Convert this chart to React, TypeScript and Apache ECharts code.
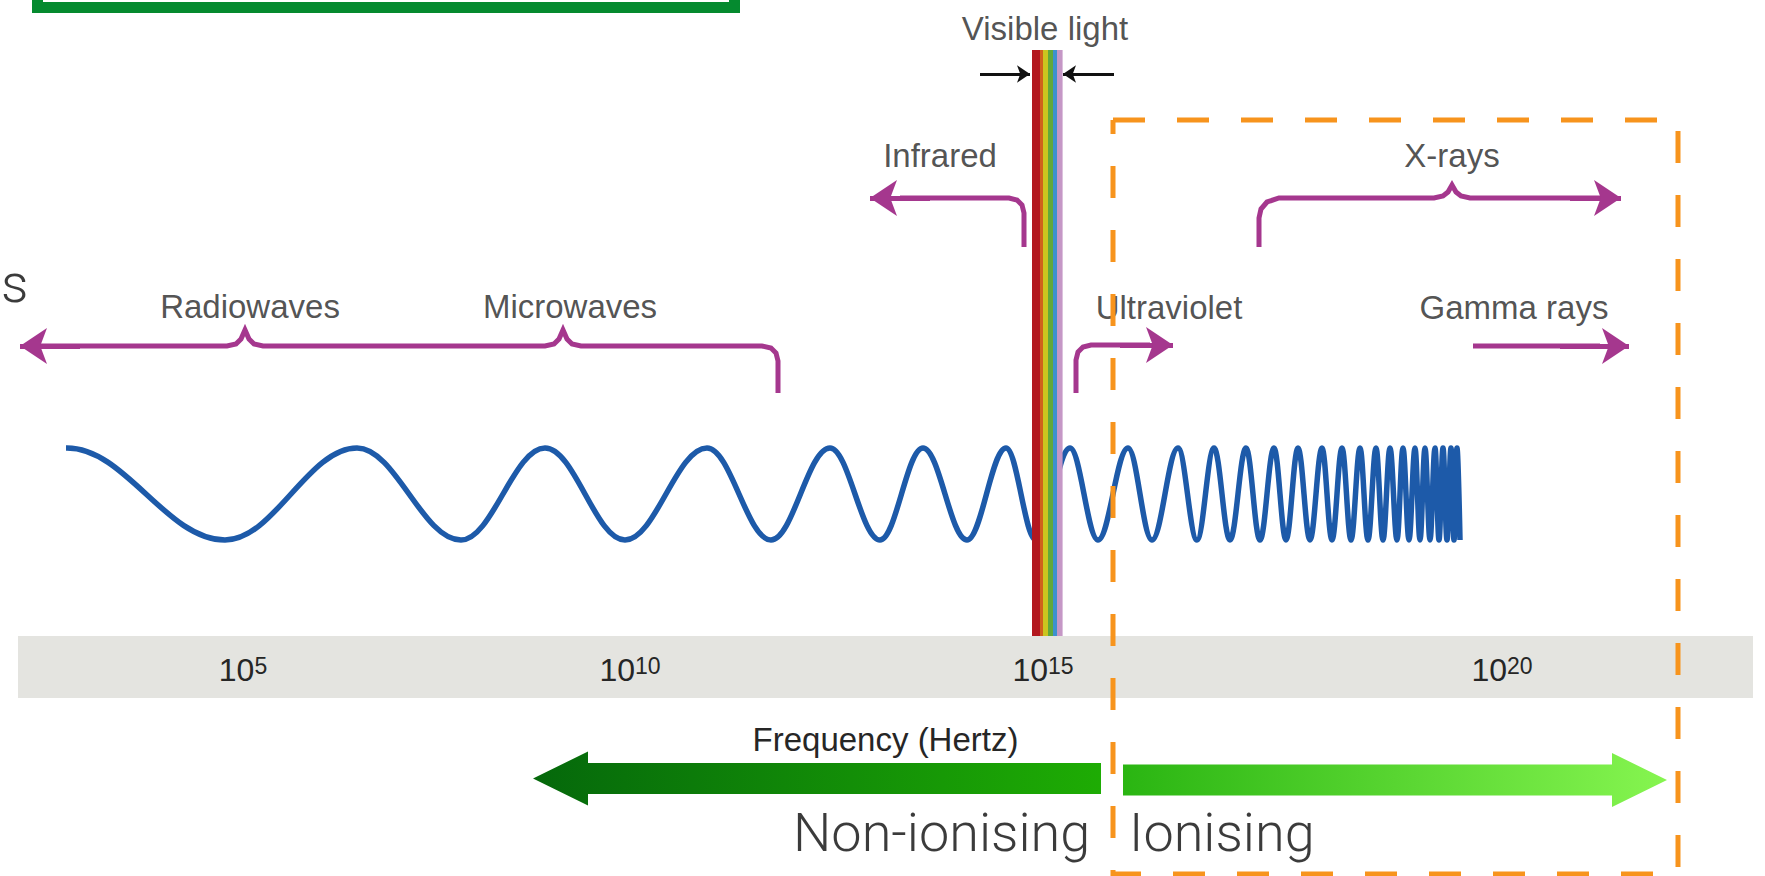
import React, { useEffect, useRef } from "react";
import * as echarts from "echarts";

// ---------------- DATA (diagram coordinates: x along the spectrum, y downwards) ----------------

// Frequency scale shown on the grey band
const freqExponents = [5, 10, 15, 20];
const freqTickPos = [243, 630, 1043, 1502];
const freqAxisName = "Frequency (Hertz)";

// Wave: successive crests (+1) and troughs (-1) (starts flat on a crest)
const waveX = [
  66, 67, 225, 357, 461, 545, 625, 707, 771, 830, 880, 923, 967, 1006, 1036, 1070, 1098,
  1128, 1152, 1178, 1197, 1214, 1230, 1246, 1260, 1274, 1286, 1298, 1310, 1322, 1332,
  1342, 1351, 1360, 1368, 1376, 1383, 1390, 1397, 1403, 1409, 1415, 1420, 1425, 1430,
  1435, 1439, 1443, 1447, 1451, 1454, 1457, 1460,
];
const waveLevel = [
  1, 1, -1, 1, -1, 1, -1, 1, -1, 1, -1, 1, -1, 1, -1, 1, -1,
  1, -1, 1, -1, 1, -1, 1, -1, 1, -1, 1, -1, 1, -1,
  1, -1, 1, -1, 1, -1, 1, -1, 1, -1, 1, -1, 1, -1,
  1, -1, 1, -1, 1, -1, 1, -1,
];

// Band names
const bandNames = ["Radiowaves", "Microwaves", "Infrared", "Visible light", "Ultraviolet", "X-rays", "Gamma rays"];
const bandNameX = [250, 570, 940, 1045, 1169, 1452, 1514];
const bandNameY = [306, 306, 155, 28, 307, 155, 307];

// Magenta range brackets
const radioMicroBracket = [
  [40, 346], [227, 346], [236, 344], [241, 339], [245, 330], [249, 339], [254, 344], [263, 346],
  [545, 346], [554, 344], [559, 339], [563, 330], [567, 339], [572, 344], [581, 346],
  [762, 346], [771, 348], [776, 353], [778, 361], [778, 393],
];
const infraredBracket = [[1024, 247], [1024, 213], [1022, 205], [1017, 200], [1009, 198], [900, 198]];
const ultravioletBracket = [[1076, 393], [1076, 360], [1078, 352], [1083, 347], [1091, 345], [1150, 345]];
const xrayBracket = [
  [1259, 247], [1259, 218], [1261, 209], [1267, 202], [1279, 198], [1434, 198],
  [1443, 196], [1448, 192], [1452, 185], [1456, 192], [1461, 196], [1470, 198], [1600, 198],
];
const gammaBracket = [[1473, 346], [1600, 346]];
const bracketArrows = [
  [[80, 346], [20, 346]],
  [[930, 198], [870, 198]],
  [[1120, 345], [1173, 345]],
  [[1570, 198], [1621, 198]],
  [[1560, 346], [1629, 346]],
];
const visibleArrows = [
  [[980, 74], [1030, 74]],
  [[1114, 74], [1063, 74]],
];

// Visible-light strip
const visibleEdges = [1032, 1040, 1043, 1048, 1053, 1057, 1062];
const visibleTop = 50;
const visibleBottom = 636;
const visibleColors = ["#b3181f", "#d0601c", "#cbc51f", "#62a83b", "#3d91cf", "#c597c6"];

// Ionising / non-ionising arrows: tail, tip, centre line
const ionArrowTail = [1101, 1123];
const ionArrowTip = [533, 1667];
const ionArrowY = [778.5, 780];

// Captions
const captionText = ["Non-ionising", "Ionising", "s"];
const captionX = [793, 1129, 1];
const captionY = [832, 832, 283];

// Boxes
const ionisingBox = [[1113, 120], [1678, 120], [1678, 874], [1113, 874], [1113, 120]];
const topBox = [[37.5, -30], [37.5, 7.5], [734.5, 7.5], [734.5, -30]];

// ---------------- STYLES ----------------
const MAGENTA = "#a5378e";
const TEXT = "#262626";
const SANS = "'Liberation Sans', Arial, Helvetica, sans-serif";
const ionArrowStops = [
  [
    { offset: 0, color: "#05680b" },
    { offset: 1, color: "#1eac04" },
  ],
  [
    { offset: 0, color: "#2ab512" },
    { offset: 1, color: "#86f550" },
  ],
];
const captionAlign = ["left", "left", "left"];

export default function App() {
  const ref = useRef<HTMLDivElement>(null);

  useEffect(() => {
    if (!ref.current) return;
    const chart = echarts.init(ref.current, undefined, { renderer: "svg" });

    const option: any = {
      animation: false,
      backgroundColor: "#ffffff",
      textStyle: { fontFamily: SANS },
      grid: [
        { left: 0, right: 0, top: 0, bottom: 0 },
        { left: 18, right: 12, top: 636, height: 62, show: true, backgroundColor: "#e4e4e0", borderWidth: 0 },
        { left: 0, right: 0, top: 448, height: 92 },
      ],
      xAxis: [
        { type: "value", gridIndex: 0, min: 0, max: 1765, show: false },
        {
          type: "value",
          gridIndex: 1,
          min: 18,
          max: 1753,
          axisLine: { show: false },
          axisTick: { show: false },
          splitLine: { show: false },
          axisLabel: {
            customValues: freqTickPos,
            margin: -27,
            verticalAlign: "middle",
            formatter: (v: number) => {
              const i = freqTickPos.indexOf(v);
              return i < 0 ? "" : `{n|10}{e|${freqExponents[i]}}`;
            },
            rich: {
              n: { fontSize: 32, color: TEXT, fontFamily: SANS, verticalAlign: "top", lineHeight: 34 },
              e: { fontSize: 23, color: TEXT, fontFamily: SANS, verticalAlign: "top", lineHeight: 26 },
            },
          },
          name: freqAxisName,
          nameLocation: "middle",
          nameGap: 41,
          nameTextStyle: { fontSize: 33, color: TEXT, fontFamily: SANS, verticalAlign: "middle" },
        },
        { type: "value", gridIndex: 2, min: 0, max: 1765, show: false },
      ],
      yAxis: [
        { type: "value", gridIndex: 0, min: 0, max: 876, inverse: true, show: false },
        { type: "value", gridIndex: 1, min: 0, max: 1, show: false },
        { type: "value", gridIndex: 2, min: -1, max: 1, show: false },
      ],
      series: [
        {
          type: "line",
          xAxisIndex: 2,
          yAxisIndex: 2,
          data: waveX.map((x, i) => [x, waveLevel[i]]),
          smooth: 0.37,
          smoothMonotone: "x",
          symbol: "none",
          clip: false,
          silent: true,
          lineStyle: { color: "#1d5aa9", width: 5.5 },
          z: 2,
        },
        {
          type: "custom",
          xAxisIndex: 0,
          yAxisIndex: 0,
          silent: true,
          z: 3,
          data: visibleEdges.slice(0, -1).map((x0, i) => [x0, visibleEdges[i + 1], visibleTop, visibleBottom]),
          renderItem: (params: any, api: any) => {
            const p0 = api.coord([api.value(0), api.value(2)]);
            const p1 = api.coord([api.value(1), api.value(3)]);
            return {
              type: "rect",
              shape: { x: p0[0], y: p0[1], width: p1[0] - p0[0] + 0.6, height: p1[1] - p0[1] },
              style: { fill: visibleColors[params.dataIndex] },
            };
          },
        },
        {
          type: "lines",
          coordinateSystem: "cartesian2d",
          xAxisIndex: 0,
          yAxisIndex: 0,
          polyline: true,
          silent: true,
          z: 3,
          lineStyle: { color: MAGENTA, width: 5, opacity: 1, curveness: 0 },
          data: [radioMicroBracket, infraredBracket, ultravioletBracket, xrayBracket, gammaBracket].map((c) => ({ coords: c })),
        },
        {
          type: "lines",
          coordinateSystem: "cartesian2d",
          xAxisIndex: 0,
          yAxisIndex: 0,
          silent: true,
          z: 3,
          symbol: ["none", "arrow"],
          symbolSize: 27,
          lineStyle: { color: MAGENTA, width: 5, opacity: 1, curveness: 0 },
          data: bracketArrows.map((c) => ({ coords: c })),
        },
        {
          type: "lines",
          coordinateSystem: "cartesian2d",
          xAxisIndex: 0,
          yAxisIndex: 0,
          silent: true,
          z: 3,
          symbol: ["none", "arrow"],
          symbolSize: 13,
          lineStyle: { color: "#111111", width: 3, opacity: 1, curveness: 0 },
          data: visibleArrows.map((c) => ({ coords: c })),
        },
        {
          type: "custom",
          xAxisIndex: 0,
          yAxisIndex: 0,
          silent: true,
          z: 3,
          data: ionArrowTail.map((t, i) => [t, ionArrowTip[i], ionArrowY[i]]),
          renderItem: (params: any, api: any) => {
            const tail = api.coord([api.value(0), api.value(2)]);
            const tip = api.coord([api.value(1), api.value(2)]);
            const dir = tip[0] > tail[0] ? 1 : -1;
            const back = tip[0] - dir * 55;
            const cy = tail[1];
            const sh = 15.5;
            const hh = 27;
            return {
              type: "polygon",
              shape: {
                points: [
                  [tail[0], cy - sh], [back, cy - sh], [back, cy - hh], [tip[0], cy],
                  [back, cy + hh], [back, cy + sh], [tail[0], cy + sh],
                ],
              },
              style: { fill: new echarts.graphic.LinearGradient(0, 0, 1, 0, ionArrowStops[params.dataIndex]) },
            };
          },
        },
        {
          type: "scatter",
          xAxisIndex: 0,
          yAxisIndex: 0,
          silent: true,
          z: 4,
          symbolSize: 1,
          itemStyle: { color: "rgba(0,0,0,0)" },
          data: bandNames.map((n, i) => ({ name: n, value: [bandNameX[i], bandNameY[i]] })),
          label: {
            show: true,
            position: "inside",
            formatter: "{b}",
            fontSize: 33,
            color: TEXT,
            fontFamily: SANS,
            align: "center",
            verticalAlign: "middle",
          },
        },
        {
          type: "scatter",
          xAxisIndex: 0,
          yAxisIndex: 0,
          silent: true,
          z: 4,
          symbolSize: 1,
          itemStyle: { color: "rgba(0,0,0,0)" },
          data: captionText.map((n, i) => ({
            name: n,
            value: [captionX[i], captionY[i]],
            label: { align: captionAlign[i] },
          })),
          label: {
            show: true,
            position: "inside",
            formatter: "{b}",
            fontSize: 54,
            fontWeight: 300,
            color: "#0a0a0a",
            fontFamily: "Roboto, 'Noto Sans', sans-serif",
            verticalAlign: "middle",
          },
        },
        {
          type: "line",
          xAxisIndex: 0,
          yAxisIndex: 0,
          data: ionisingBox,
          symbol: "none",
          clip: false,
          silent: true,
          z: 6,
          lineStyle: { color: "#f7941d", width: 5, type: [32, 32], cap: "butt", join: "miter" },
        },
        {
          type: "line",
          xAxisIndex: 0,
          yAxisIndex: 0,
          data: topBox,
          symbol: "none",
          silent: true,
          z: 6,
          lineStyle: { color: "#058a2f", width: 11, join: "miter", cap: "butt" },
        },
      ],
    };

    chart.setOption(option);
    return () => chart.dispose();
  }, []);

  return (
    <div
      ref={ref}
      style={{ position: "fixed", left: 0, top: 0, width: "1765px", height: "876px", background: "#fff" }}
    />
  );
}
